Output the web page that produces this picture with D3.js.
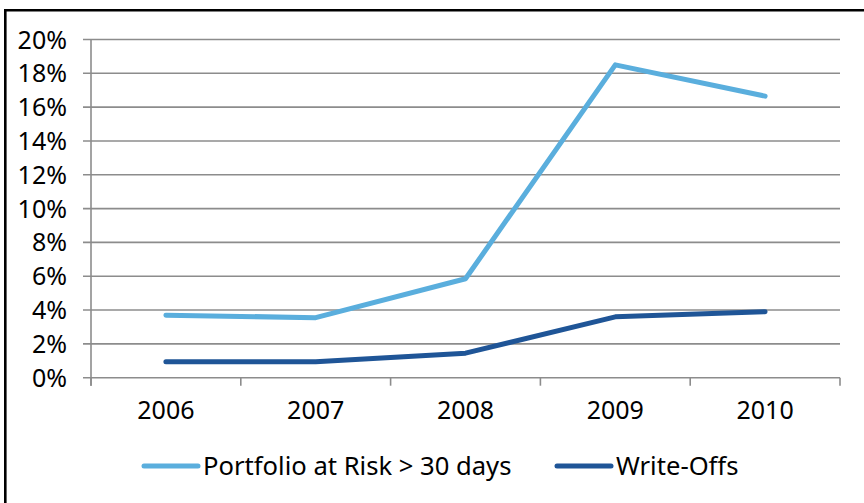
<!DOCTYPE html>
<html>
<head>
  <meta charset="utf-8">
  <title>Portfolio at Risk and Write-Offs</title>
  <script src="https://d3js.org/d3.v7.min.js"></script>
  <style>
    body { margin: 0; background: #fff; }
    svg { display: block; }
    text { font-family: "Noto Sans", "Liberation Sans", Arial, sans-serif; font-size: 25px; fill: #000; }
    .legend text { font-size: 25.6px; }
    .grid line { stroke: #8c8c8c; stroke-width: 1.6px; }
  </style>
</head>
<body>
  <svg width="864" height="503"></svg>
  <script>
    // chart values
    const years = ["2006", "2007", "2008", "2009", "2010"];
    const parValues = [3.7, 3.55, 5.85, 18.5, 16.65];      // Portfolio at Risk > 30 days (%)
    const writeOffValues = [0.95, 0.95, 1.45, 3.6, 3.9];   // Write-Offs (%)
    const yTicks = [0, 2, 4, 6, 8, 10, 12, 14, 16, 18, 20];
    const seriesNames = ["Portfolio at Risk > 30 days", "Write-Offs"];
    const seriesColors = ["#5aaedd", "#1f5597"];

    const svg = d3.select("svg");

    // outer frame (only left and top edges show in the picture)
    svg.append("path")
      .attr("d", "M5.3,503 V10.2 H864")
      .attr("fill", "none")
      .attr("stroke", "#000")
      .attr("stroke-width", 2.6);

    const plotLeft = 91, plotRight = 840, plotTop = 39.5, plotBottom = 377.7;

    const x = d3.scaleBand().domain(years).range([plotLeft, plotRight]);
    const y = d3.scaleLinear().domain([0, 20]).range([plotBottom, plotTop]);

    // horizontal gridlines with left tick stubs
    const grid = svg.append("g").attr("class", "grid");
    grid.selectAll("line.gl")
      .data(yTicks)
      .join("line")
      .attr("class", "gl")
      .attr("x1", plotLeft - 8)
      .attr("x2", plotRight)
      .attr("y1", d => y(d))
      .attr("y2", d => y(d));

    // y axis line
    grid.append("line")
      .attr("x1", plotLeft).attr("x2", plotLeft)
      .attr("y1", plotTop).attr("y2", plotBottom + 8);

    // x axis tick marks at category boundaries
    const bounds = years.map(d => x(d)).concat([plotRight]);
    grid.selectAll("line.xt")
      .data(bounds)
      .join("line")
      .attr("class", "xt")
      .attr("x1", d => d).attr("x2", d => d)
      .attr("y1", plotBottom).attr("y2", plotBottom + 8);

    // y tick labels
    svg.append("g")
      .selectAll("text")
      .data(yTicks)
      .join("text")
      .attr("x", 67)
      .attr("y", d => y(d) + 9)
      .attr("text-anchor", "end")
      .text(d => d + "%");

    // x tick labels
    svg.append("g")
      .selectAll("text")
      .data(years)
      .join("text")
      .attr("x", d => x(d) + x.bandwidth() / 2)
      .attr("y", 419)
      .attr("text-anchor", "middle")
      .text(d => d);

    // series lines
    const line = d3.line()
      .x((d, i) => x(years[i]) + x.bandwidth() / 2)
      .y(d => y(d));

    [parValues, writeOffValues].forEach((vals, i) => {
      svg.append("path")
        .datum(vals)
        .attr("fill", "none")
        .attr("stroke", seriesColors[i])
        .attr("stroke-width", 5)
        .attr("stroke-linecap", "round")
        .attr("stroke-linejoin", "round")
        .attr("d", line);
    });

    // legend
    const legendX = [144, 557];
    const legend = svg.append("g").attr("class", "legend");
    seriesNames.forEach((name, i) => {
      legend.append("line")
        .attr("x1", legendX[i]).attr("x2", legendX[i] + 54)
        .attr("y1", 466).attr("y2", 466)
        .attr("stroke", seriesColors[i])
        .attr("stroke-width", 5)
        .attr("stroke-linecap", "round");
      legend.append("text")
        .attr("x", legendX[i] + 59)
        .attr("y", 475)
        .text(name);
    });
  </script>
</body>
</html>
